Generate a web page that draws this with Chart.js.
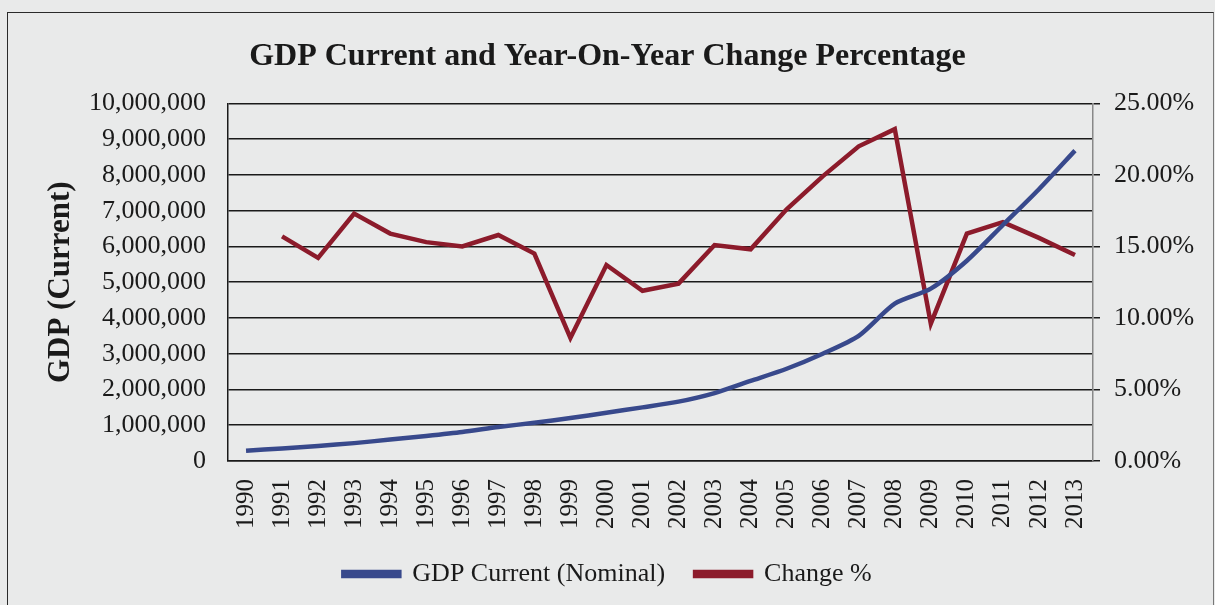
<!DOCTYPE html>
<html>
<head>
<meta charset="utf-8">
<script src="https://cdn.jsdelivr.net/npm/chart.js@4/dist/chart.umd.min.js"></script>
<style>
	html, body { margin: 0; padding: 0; background: #e9eaea; }
	#wrap { position: relative; width: 1215px; height: 605px; }
	#frame { position: absolute; left: 7px; top: 12px; width: 1205px; height: 600px;
		border: 1.5px solid #2a2a2a; border-bottom: none; border-right-color: #777; }
	#chart { position: absolute; left: 0; top: 0; }
</style>
</head>
<body>
<div id="wrap">
	<div id="frame"></div>
	<canvas id="chart" width="1215" height="605"></canvas>
</div>
<script>
const years = ["1990", "1991", "1992", "1993", "1994", "1995", "1996", "1997", "1998", "1999",
	"2000", "2001", "2002", "2003", "2004", "2005", "2006", "2007", "2008", "2009",
	"2010", "2011", "2012", "2013"]

const gdpCurrent = [290000, 350000, 420000, 500000, 600000, 700000, 810000, 950000, 1070000, 1200000,
	1350000, 1500000, 1660000, 1900000, 2240000, 2580000, 3000000, 3500000, 4400000, 4820000,
	5600000, 6600000, 7600000, 8680000]

// year-on-year change, percent (no value for the first year)
const changePct = [null, 15.7, 14.2, 17.3, 15.9, 15.3, 15.0, 15.8, 14.5, 8.6,
	13.7, 11.9, 12.4, 15.1, 14.8, 17.6, 19.9, 22.0, 23.2, 9.6,
	15.9, 16.7, 15.6, 14.4]

const serif = "'Liberation Serif', 'DejaVu Serif', serif"
const blue = "#38498c"
const red = "#8c1b2b"

Chart.defaults.font.family = serif
Chart.defaults.color = "#1a1a1a"

let chart = new Chart(document.getElementById("chart"), {
	type: 'line',
	data: {
		labels: years,
		datasets: [{
			label: 'GDP Current (Nominal)',
			data: gdpCurrent,
			yAxisID: 'y',
			borderColor: blue,
			backgroundColor: blue,
			borderWidth: 4.5,
			tension: 0.25,
			pointRadius: 0,
		}, {
			label: 'Change %',
			data: changePct,
			yAxisID: 'y2',
			borderColor: red,
			backgroundColor: red,
			borderWidth: 4.5,
			tension: 0,
			pointRadius: 0,
		}],
	},
	options: {
		animation: false,
		responsive: false,
		layout: {
			padding: { top: 0, left: 0, right: 0, bottom: 8 },
		},
		plugins: {
			tooltip: { enabled: false },
			title: {
				display: true,
				text: 'GDP Current and Year-On-Year Change Percentage',
				font: { size: 32, weight: 'bold' },
				color: '#1a1a1a',
				padding: { top: 38, bottom: 27 },
			},
			legend: {
				position: 'bottom',
				labels: {
					font: { size: 26 },
					boxWidth: 56,
					boxHeight: 4,
					padding: 30,
					color: '#1a1a1a',
				},
			},
		},
		scales: {
			x: {
				offset: true,
				grid: { display: false },
				border: { color: '#1a1a1a', width: 1.5 },
				ticks: {
					font: { size: 25 },
					maxRotation: 90,
					minRotation: 90,
					padding: 10,
					autoSkip: false,
				},
				afterFit: function(scale) {
					scale.height = 70
				},
			},
			y: {
				position: 'left',
				min: 0,
				max: 10000000,
				ticks: {
					stepSize: 1000000,
					font: { size: 26 },
					padding: 22,
					callback: function(v) { return v.toLocaleString('en-US') },
				},
				grid: { color: '#1a1a1a', lineWidth: 1.5, drawTicks: false },
				border: { color: '#1a1a1a', width: 1.5 },
				title: {
					display: true,
					text: 'GDP (Current)',
					font: { size: 31, weight: 'bold' },
					padding: { top: 42, bottom: 0 },
				},
				afterFit: function(scale) {
					scale.width = 228
				},
			},
			y2: {
				position: 'right',
				min: 0,
				max: 25,
				ticks: {
					stepSize: 5,
					font: { size: 26 },
					padding: 14,
					callback: function(v) { return v.toFixed(2) + '%' },
				},
				grid: { drawOnChartArea: false, color: '#1a1a1a', lineWidth: 1.5, tickLength: 7 },
				border: { color: '#888', width: 1.5, dash: [4, 2] },
				afterFit: function(scale) {
					scale.width = 122
				},
			},
		},
	},
})
</script>
</body>
</html>
